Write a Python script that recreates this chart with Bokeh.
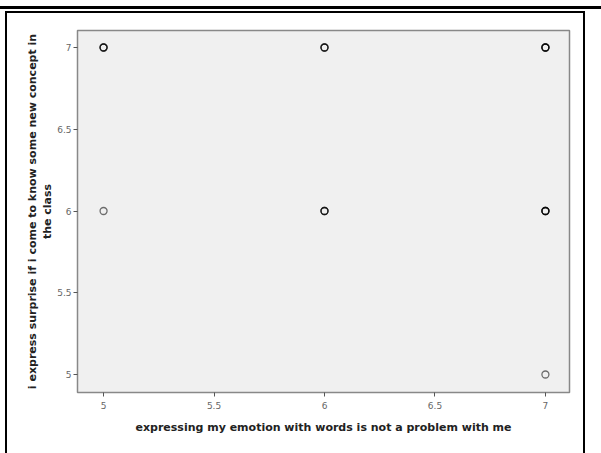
from bokeh.plotting import figure
from bokeh.models import FixedTicker, Range1d
from bokeh.embed import file_html
from bokeh.resources import INLINE

# data (overlapping observations repeated)
x_vals = [5, 5, 5, 6, 6, 6, 7, 7, 7, 7, 5, 6, 6, 6, 7, 7, 7, 7, 7]
y_vals = [7, 7, 7, 7, 7, 7, 7, 7, 7, 7, 6, 6, 6, 6, 6, 6, 6, 6, 5]
x_ticks = [5, 5.5, 6, 6.5, 7]
x_tick_labels = ["5", "5.5", "6", "6.5", "7"]
y_ticks = [5, 5.5, 6, 6.5, 7]
y_tick_labels = ["5", "5.5", "6", "6.5", "7"]
x_label = "expressing my emotion with words is not a problem with me"
y_label = "i express surprise if i come to know some new concept in\nthe class"

p = figure(width=601, height=453, output_backend="svg", toolbar_location=None,
           x_range=Range1d(4.882, 7.109), y_range=Range1d(4.89, 7.104),
           min_border_left=77, min_border_right=32, min_border_top=30, min_border_bottom=61)
p.background_fill_color = "#f0f0f0"
p.border_fill_alpha = 0
p.outline_line_color = "#888888"
p.outline_line_width = 1.5
p.grid.visible = False

# page decorations (thick top rule and outer box) painted behind the transparent canvas
p.styles = {
    "background-color": "white",
    "background-image": ", ".join(["linear-gradient(black, black)"] * 4),
    "background-repeat": "no-repeat",
    "background-position": "0px 6px, 5px 11px, 5px 11px, 583px 11px",
    "background-size": "601px 3px, 580px 2px, 2px 442px, 2px 442px",
}

p.scatter(x_vals, y_vals, marker="circle", size=7, fill_color=None,
          line_color="black", line_alpha=0.55, line_width=1.3)

for ax, ticks, labels, lab in ((p.xaxis[0], x_ticks, x_tick_labels, x_label),
                               (p.yaxis[0], y_ticks, y_tick_labels, y_label)):
    ax.ticker = FixedTicker(ticks=ticks)
    ax.major_label_overrides = {t: l for t, l in zip(ticks, labels)}
    ax.minor_tick_line_color = None
    ax.major_tick_in = 0
    ax.major_tick_out = 4
    ax.major_tick_line_color = "#555555"
    ax.axis_line_color = "#888888"
    ax.major_label_text_color = "#666666"
    ax.major_label_text_font = "DejaVu Sans"
    ax.major_label_text_font_size = "9px"
    ax.axis_label = lab
    ax.axis_label_text_font = "DejaVu Sans"
    ax.axis_label_text_font_style = "bold"
    ax.axis_label_text_font_size = "11px"
    ax.axis_label_text_color = "#222222"
p.xaxis.major_label_standoff = 5
p.yaxis.major_label_standoff = 2
p.xaxis.axis_label_standoff = 9
p.yaxis.axis_label_standoff = 0

open("out.html", "w").write(file_html(p, INLINE))
